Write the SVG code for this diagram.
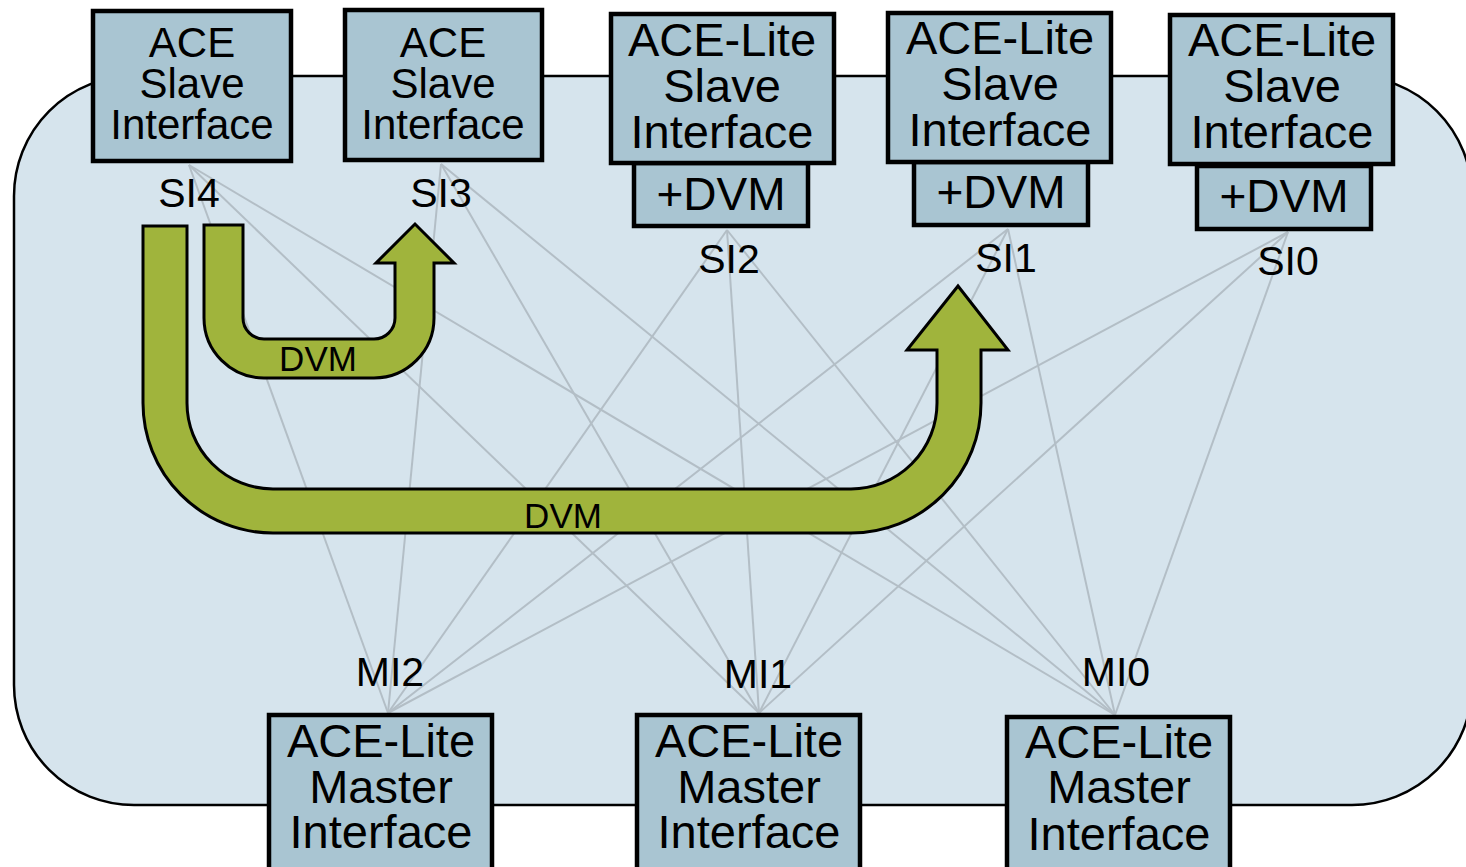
<svg xmlns="http://www.w3.org/2000/svg" width="1466" height="867" viewBox="0 0 1466 867">
  <defs>
    <style>
      .bg { fill: #ffffff; }
      .fabric { fill: #d6e4ed; stroke: #000; stroke-width: 2.5; }
      .box { fill: #a9c5d2; stroke: #000; stroke-width: 4.5; }
      .link { stroke: #b3bec6; stroke-width: 2; fill: none; }
      .dvm { fill: #a0b43c; stroke: #000; stroke-width: 3; stroke-linejoin: miter; }
      text { font-family: "Liberation Sans", Arial, sans-serif; fill: #000; text-anchor: middle; }
      .t42 { font-size: 42px; }
      .t47 { font-size: 47px; }
      .t46 { font-size: 46px; }
      .lbl { font-size: 41px; }
      .dl { font-size: 35px; }
    </style>
  </defs>

  <rect class="bg" x="0" y="0" width="1466" height="867"/>

  <!-- interconnect fabric -->
  <rect id="fabric" class="fabric" x="14" y="76" width="1458" height="729" rx="120" ry="120"/>

  <!-- crossbar links: every slave interface to every master interface -->
  <g id="connectors">
    <line class="link" x1="189" y1="165" x2="388" y2="713"/>
    <line class="link" x1="189" y1="165" x2="759" y2="713"/>
    <line class="link" x1="189" y1="165" x2="1115" y2="715"/>
    <line class="link" x1="441" y1="164" x2="388" y2="713"/>
    <line class="link" x1="441" y1="164" x2="759" y2="713"/>
    <line class="link" x1="441" y1="164" x2="1115" y2="715"/>
    <line class="link" x1="727" y1="230" x2="388" y2="713"/>
    <line class="link" x1="727" y1="230" x2="759" y2="713"/>
    <line class="link" x1="727" y1="230" x2="1115" y2="715"/>
    <line class="link" x1="1008" y1="229" x2="388" y2="713"/>
    <line class="link" x1="1008" y1="229" x2="759" y2="713"/>
    <line class="link" x1="1008" y1="229" x2="1115" y2="715"/>
    <line class="link" x1="1288" y1="232" x2="388" y2="713"/>
    <line class="link" x1="1288" y1="232" x2="759" y2="713"/>
    <line class="link" x1="1288" y1="232" x2="1115" y2="715"/>
  </g>

  <!-- DVM path SI4 to SI3 -->
  <g id="dvm-si3">
    <path class="dvm" d="M204,225 L243,225 L243,318 A21,21 0 0 0 264,339 L374,339 A21,21 0 0 0 395,318 L395,263 L376,263 L415,224 L454,263 L434,263 L434,318 A60,60 0 0 1 374,378 L264,378 A60,60 0 0 1 204,318 Z"/>
    <text class="dl" x="318" y="371">DVM</text>
  </g>

  <!-- DVM path SI4 to SI1 -->
  <g id="dvm-si1">
    <path class="dvm" d="M143,226 L187,226 L187,403 A86,86 0 0 0 273,489 L851,489 A86,86 0 0 0 937,403 L937,350 L907,350 L958,286 L1008,350 L981,350 L981,403 A130,130 0 0 1 851,533 L273,533 A130,130 0 0 1 143,403 Z"/>
    <text class="dl" x="563" y="528">DVM</text>
  </g>

  <!-- slave interfaces -->
  <g id="si4">
    <rect class="box" x="93" y="11" width="198" height="150"/>
    <text class="t42"><tspan x="192" y="57">ACE</tspan><tspan x="192" dy="41">Slave</tspan><tspan x="192" dy="41">Interface</tspan></text>
    <text class="lbl" x="189" y="207">SI4</text>
  </g>
  <g id="si3">
    <rect class="box" x="345" y="10" width="197" height="150"/>
    <text class="t42"><tspan x="443" y="57">ACE</tspan><tspan x="443" dy="41">Slave</tspan><tspan x="443" dy="41">Interface</tspan></text>
    <text class="lbl" x="441" y="207">SI3</text>
  </g>
  <g id="si2">
    <rect class="box" x="634" y="163" width="174" height="63"/>
    <rect class="box" x="611" y="14" width="223" height="149"/>
    <text class="t47"><tspan x="722" y="56">ACE-Lite</tspan><tspan x="722" dy="46">Slave</tspan><tspan x="722" dy="46">Interface</tspan></text>
    <text class="t46" x="721" y="210">+DVM</text>
    <text class="lbl" x="729" y="273">SI2</text>
  </g>
  <g id="si1">
    <rect class="box" x="914" y="162" width="174" height="63"/>
    <rect class="box" x="888" y="13" width="223" height="149"/>
    <text class="t47"><tspan x="1000" y="54">ACE-Lite</tspan><tspan x="1000" dy="46">Slave</tspan><tspan x="1000" dy="46">Interface</tspan></text>
    <text class="t46" x="1001" y="208">+DVM</text>
    <text class="lbl" x="1006" y="272">SI1</text>
  </g>
  <g id="si0">
    <rect class="box" x="1197" y="166" width="174" height="63"/>
    <rect class="box" x="1170" y="15" width="223" height="149"/>
    <text class="t47"><tspan x="1282" y="56">ACE-Lite</tspan><tspan x="1282" dy="46">Slave</tspan><tspan x="1282" dy="46">Interface</tspan></text>
    <text class="t46" x="1284" y="212">+DVM</text>
    <text class="lbl" x="1288" y="275">SI0</text>
  </g>

  <!-- master interfaces -->
  <g id="mi2">
    <rect class="box" x="269" y="715" width="223" height="160"/>
    <text class="t47"><tspan x="381" y="757">ACE-Lite</tspan><tspan x="381" dy="46">Master</tspan><tspan x="381" dy="45">Interface</tspan></text>
    <text class="lbl" x="390" y="686">MI2</text>
  </g>
  <g id="mi1">
    <rect class="box" x="637" y="715" width="223" height="160"/>
    <text class="t47"><tspan x="749" y="757">ACE-Lite</tspan><tspan x="749" dy="46">Master</tspan><tspan x="749" dy="45">Interface</tspan></text>
    <text class="lbl" x="758" y="688">MI1</text>
  </g>
  <g id="mi0">
    <rect class="box" x="1007" y="717" width="223" height="160"/>
    <text class="t47"><tspan x="1119" y="758">ACE-Lite</tspan><tspan x="1119" dy="45">Master</tspan><tspan x="1119" dy="47">Interface</tspan></text>
    <text class="lbl" x="1116" y="686">MI0</text>
  </g>
</svg>
